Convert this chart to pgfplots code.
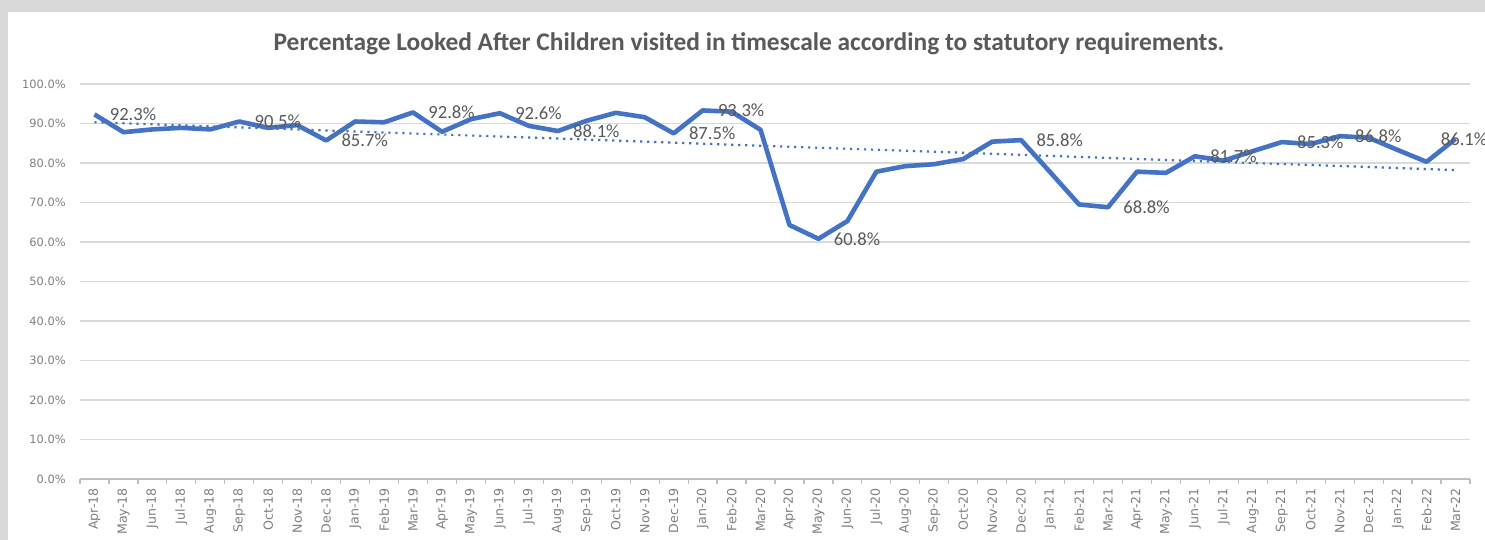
\documentclass[border=0pt]{standalone}
\usepackage{pgfplots}
\usepackage{pgfplotstable}
\pgfplotsset{compat=1.18}
\usepackage{fontspec}
\setmainfont{Carlito}
\newfontfamily\tickfont{DejaVu Sans}
\definecolor{lineblue}{HTML}{4472C4}
\definecolor{bggray}{HTML}{D9D9D9}
\definecolor{gridgray}{HTML}{D9D9D9}
\definecolor{axisgray}{HTML}{BFBFBF}
\definecolor{tickgray}{HTML}{808080}
\definecolor{labelgray}{HTML}{595959}

\pgfplotstableread{
x y
0 92.3
1 87.8
2 88.5
3 88.9
4 88.5
5 90.5
6 88.9
7 89.6
8 85.7
9 90.5
10 90.3
11 92.8
12 87.9
13 91.1
14 92.6
15 89.4
16 88.1
17 90.7
18 92.7
19 91.6
20 87.5
21 93.3
22 93.0
23 88.4
24 64.3
25 60.8
26 65.3
27 77.8
28 79.2
29 79.7
30 81.0
31 85.4
32 85.8
33 77.7
34 69.5
35 68.8
36 77.8
37 77.5
38 81.7
39 80.6
40 83.0
41 85.3
42 84.8
43 86.8
44 86.4
45 83.3
46 80.3
47 86.1
}\datatable

\pgfplotstableread{
x y lab
0 92.3 92.3\%
5 90.5 90.5\%
8 85.7 85.7\%
11 92.8 92.8\%
14 92.6 92.6\%
16 88.1 88.1\%
20 87.5 87.5\%
21 93.3 93.3\%
25 60.8 60.8\%
32 85.8 85.8\%
35 68.8 68.8\%
38 81.7 81.7\%
41 85.3 85.3\%
43 86.8 86.8\%
}\labtable

\pgfplotstableread{
x y lab
47 86.1 86.1\%
}\lastlab

\begin{document}
\begin{tikzpicture}
\useasboundingbox (0,0) rectangle (742.5pt,270pt);
\fill[bggray] (0,0) rectangle (742.5pt,270pt);
\fill[white] (4pt,0) rectangle (742.5pt,264pt);
\node[font=\fontsize{12.7}{14}\selectfont\bfseries, text=labelgray] at (374.5pt,248pt) {Percentage Looked After Children visited in timescale according to statutory requirements.};
\begin{axis}[
  at={(40pt,30.5pt)}, anchor=south west,
  scale only axis, width=695pt, height=197.5pt,
  xmin=-0.5, xmax=47.5, ymin=0, ymax=100,
  axis x line*=bottom,
  axis y line*=left,
  axis line style={draw=none},
  ymajorgrids, grid style={gridgray, line width=0.7pt},
  ytick={0,10,...,100},
  yticklabels={0.0\%,10.0\%,20.0\%,30.0\%,40.0\%,50.0\%,60.0\%,70.0\%,80.0\%,90.0\%,100.0\%},
  xtick={0,...,47},
  xticklabels={Apr-18,May-18,Jun-18,Jul-18,Aug-18,Sep-18,Oct-18,Nov-18,Dec-18,Jan-19,Feb-19,Mar-19,Apr-19,May-19,Jun-19,Jul-19,Aug-19,Sep-19,Oct-19,Nov-19,Dec-19,Jan-20,Feb-20,Mar-20,Apr-20,May-20,Jun-20,Jul-20,Aug-20,Sep-20,Oct-20,Nov-20,Dec-20,Jan-21,Feb-21,Mar-21,Apr-21,May-21,Jun-21,Jul-21,Aug-21,Sep-21,Oct-21,Nov-21,Dec-21,Jan-22,Feb-22,Mar-22},
  minor xtick={-0.5,0.5,...,47.5},
  major tick length=0pt,
  minor tick length=2.5pt,
  tick align=outside,
  minor tick style={axisgray, line width=0.6pt},
  xticklabel shift=4.5pt,
  yticklabel shift=7pt,
  xticklabel style={rotate=90, anchor=east, font=\tickfont\fontsize{6.3}{7}\selectfont, text=tickgray, inner sep=0pt},
  yticklabel style={anchor=east, font=\tickfont\fontsize{5.7}{6}\selectfont, text=tickgray, inner sep=0pt},
  clip=false,
]
\draw[axisgray, line width=0.7pt] (axis cs:-0.5,0) -- (axis cs:47.5,0);
\addplot[lineblue, line width=1.1pt, dash pattern=on 1.1pt off 2.4pt] coordinates {(0,90.3) (47,78.2)};
\addplot[lineblue, line width=2.3pt, line join=round, mark=none] table[x=x,y=y] {\datatable};
\addplot[draw=none, mark=none, point meta=explicit symbolic,
  nodes near coords,
  every node near coord/.append style={anchor=west, xshift=7.5pt, inner sep=0pt, text=labelgray, font=\fontsize{9.3}{10}\selectfont}]
  table[x=x,y=y,meta=lab] {\labtable};
\addplot[draw=none, mark=none, point meta=explicit symbolic,
  nodes near coords,
  every node near coord/.append style={anchor=west, xshift=-7.5pt, inner sep=0pt, text=labelgray, font=\fontsize{9.3}{10}\selectfont}]
  table[x=x,y=y,meta=lab] {\lastlab};
\end{axis}
\end{tikzpicture}
\end{document}
